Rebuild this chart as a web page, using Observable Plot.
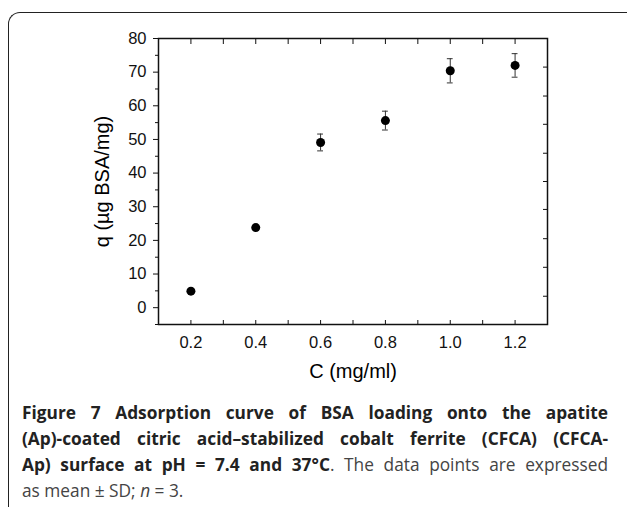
<!DOCTYPE html>
<html>
<head>
<meta charset="utf-8">
<script src="https://cdn.jsdelivr.net/npm/d3@7"></script>
<script src="https://cdn.jsdelivr.net/npm/@observablehq/plot@0.6"></script>
<style>
  html, body { margin: 0; padding: 0; background: #fff; }
  #page { position: relative; width: 627px; height: 507px; overflow: hidden; }
  #box { position: absolute; left: 8px; top: 12px; width: 640px; height: 520px;
         border-top: 1.5px solid #222; border-left: 1.5px solid #222; border-top-left-radius: 12px; }
  #chart { position: absolute; left: 0; top: 0; }
  #caption { position: absolute; left: 22px; top: 400px; width: 586px;
             font-family: "Open Sans", "Noto Sans", sans-serif; font-size: 17.3px; color: #222; line-height: 26px; }
  #caption .ln { white-space: nowrap; text-align: justify; text-align-last: justify; }
  #caption .last { text-align-last: left; }
  #caption .reg { color: #444; }
</style>
</head>
<body>
<div id="page">
  <div id="box"></div>
  <div id="chart"></div>
  <div id="caption">
    <div class="ln"><b>Figure 7 Adsorption curve of BSA loading onto the apatite</b></div>
    <div class="ln"><b>(Ap)-coated citric acid–stabilized cobalt ferrite (CFCA) (CFCA-</b></div>
    <div class="ln"><b>Ap) surface at pH = 7.4 and 37°C</b><span class="reg">. The data points are expressed</span></div>
    <div class="ln last reg">as mean ± SD; <i>n</i> = 3.</div>
  </div>
</div>
<script>
const conc = [0.2, 0.4, 0.6, 0.8, 1.0, 1.2];
const qMean = [4.9, 23.8, 49.1, 55.6, 70.4, 72.0];
const qSD = [0.4, 0.5, 2.5, 2.8, 3.6, 3.5];
const xTicks = [0.2, 0.4, 0.6, 0.8, 1.0, 1.2];
const xMinor = [0.1, 0.2, 0.3, 0.4, 0.5, 0.6, 0.7, 0.8, 0.9, 1.0, 1.1, 1.2, 1.3];
const yTicks = [0, 10, 20, 30, 40, 50, 60, 70, 80];
const yMinor = [-5, 5, 15, 25, 35, 45, 55, 65, 75];
const yRightTicks = [3.4, 12, 20.5, 29.2, 37.5, 45.9, 54.5, 62.9, 71.5];
const xTitle = "C (mg/ml)";
const yTitle = "q (µg BSA/mg)";

const data = conc.map((c, i) => ({c, q: qMean[i], sd: qSD[i]}));
const capHalf = 0.009;
const font = "Liberation Sans, Arial, sans-serif";
const fmtX = d3.format(".1f");

const chart = Plot.plot({
  width: 627,
  height: 400,
  marginLeft: 158,
  marginRight: 80,
  marginTop: 38,
  marginBottom: 76,
  style: {fontFamily: font, fontSize: "16px", color: "#111"},
  x: {domain: [0.1, 1.3]},
  y: {domain: [-5, 80]},
  marks: [
    Plot.frame({stroke: "#111", strokeWidth: 1.5}),
    // bottom axis: inward ticks
    Plot.axisX({anchor: "bottom", ticks: xMinor, tickSize: -4, tickFormat: () => "", label: null}),
    // top axis: inward ticks
    Plot.axisX({anchor: "top", ticks: xMinor, tickSize: -5, tickFormat: () => "", label: null}),
    // left axis: outward ticks
    Plot.axisY({anchor: "left", ticks: yTicks, tickSize: 5, tickFormat: () => "", label: null}),
    Plot.axisY({anchor: "left", ticks: yMinor, tickSize: 3, tickFormat: () => "", label: null}),
    // right axis: inward ticks
    Plot.axisY({anchor: "right", ticks: yRightTicks, tickSize: -5, tickFormat: () => "", label: null}),
    // tick labels
    Plot.text(xTicks, {x: d => d, frameAnchor: "bottom", dy: 23, text: d => fmtX(d), fontSize: 16.5, fill: "#111"}),
    Plot.text(yTicks, {y: d => d, frameAnchor: "left", dx: -12, textAnchor: "end", text: d => String(d), fontSize: 16.5, fill: "#111"}),
    // axis titles
    Plot.text([xTitle], {frameAnchor: "bottom", dy: 53, fontSize: 20, fill: "#000"}),
    Plot.text([yTitle], {frameAnchor: "left", dx: -56, rotate: -90, textAnchor: "middle", fontSize: 20, fill: "#000"}),
    // error bars
    Plot.ruleX(data, {x: "c", y1: d => d.q - d.sd, y2: d => d.q + d.sd, stroke: "#333", strokeWidth: 1}),
    Plot.ruleY(data, {y: d => d.q + d.sd, x1: d => d.c - capHalf, x2: d => d.c + capHalf, stroke: "#333", strokeWidth: 1}),
    Plot.ruleY(data, {y: d => d.q - d.sd, x1: d => d.c - capHalf, x2: d => d.c + capHalf, stroke: "#333", strokeWidth: 1}),
    Plot.dot(data, {x: "c", y: "q", r: 4.5, fill: "#000", stroke: "none"})
  ]
});
document.getElementById("chart").appendChild(chart);
</script>
</body>
</html>
